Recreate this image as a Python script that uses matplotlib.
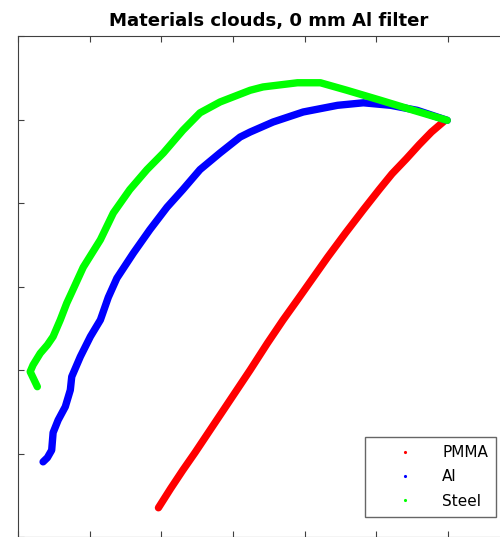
import matplotlib
matplotlib.use('Agg')
import matplotlib.pyplot as plt

plt.rcParams['font.family'] = ['DejaVu Sans']

# traced centre lines of each material cloud (arbitrary units, ticks unlabeled)
pmma_x = [1.96, 2.13, 2.30, 2.47, 2.68, 2.96, 3.24, 3.48, 3.70, 3.90, 4.32,
          4.57, 4.82, 5.04, 5.22, 5.42, 5.60, 5.77, 5.96]
pmma_y = [0.35, 0.58, 0.80, 1.01, 1.28, 1.64, 2.00, 2.32, 2.60, 2.84, 3.35,
          3.64, 3.92, 4.16, 4.35, 4.53, 4.70, 4.85, 4.99]

al_x = [0.35, 0.41, 0.47, 0.49, 0.56, 0.66, 0.73, 0.75, 0.87, 1.01, 1.15, 1.26,
        1.38, 1.61, 1.84, 2.08, 2.30, 2.54, 2.82, 3.10, 3.24, 3.56, 3.98, 4.46,
        4.82, 5.20, 5.57, 5.99]
al_y = [0.90, 0.95, 1.04, 1.25, 1.40, 1.56, 1.76, 1.92, 2.16, 2.40, 2.60, 2.87,
        3.10, 3.40, 3.68, 3.95, 4.16, 4.40, 4.60, 4.79, 4.85, 4.97, 5.09, 5.17,
        5.20, 5.17, 5.11, 4.99]

steel_x = [0.27, 0.17, 0.21, 0.31, 0.41, 0.49, 0.59, 0.68, 0.75, 0.91, 1.15, 1.33,
           1.56, 1.80, 2.03, 2.30, 2.54, 2.82, 3.24, 3.42, 3.90, 4.22, 4.59, 5.06,
           5.52, 5.99]
steel_y = [1.80, 1.98, 2.06, 2.20, 2.30, 2.40, 2.60, 2.80, 2.93, 3.23, 3.56, 3.88,
           4.16, 4.40, 4.60, 4.87, 5.08, 5.21, 5.35, 5.39, 5.44, 5.44, 5.35, 5.23,
           5.11, 4.99]

names = ['PMMA', 'Al', 'Steel']
colors = ['#ff0000', '#0000ff', '#00ff00']

fig = plt.figure(figsize=(5.0, 5.37), dpi=100)
ax = fig.add_axes([18 / 500, 0.0, 501.6 / 500, 501 / 537])

series = [(pmma_x, pmma_y), (al_x, al_y), (steel_x, steel_y)]
for (x, y), name, c in zip(series, names, colors):
    ax.plot(x, y, color=c, lw=5.3, solid_joinstyle='round', solid_capstyle='round',
            label=name)

ax.set_xlim(0, 7)
ax.set_ylim(0, 6)
ax.set_xticks(range(8))
ax.set_yticks(range(7))
ax.set_xticklabels([])
ax.set_yticklabels([])
ax.tick_params(direction='in', length=4, width=0.8, color='#404040',
               top=True, right=True)
for s in ax.spines.values():
    s.set_color('#404040')
    s.set_linewidth(0.8)

ax.set_title('Materials clouds, 0 mm Al filter', fontsize=13.1, fontweight='bold',
             pad=7)

leg = ax.legend(loc='lower left', bbox_to_anchor=(365 / 500, 20 / 537),
                bbox_transform=fig.transFigure, borderaxespad=0, fontsize=11,
                frameon=True, fancybox=False, edgecolor='#404040',
                handlelength=4.15, handletextpad=0.34, borderpad=0.55,
                labelspacing=0.6)
leg.get_frame().set_linewidth(1.0)
for h in leg.legend_handles:
    h.set_linestyle('none')
    h.set_marker('.')
    h.set_markersize(2.5)

fig.savefig('out.png', dpi=100)
